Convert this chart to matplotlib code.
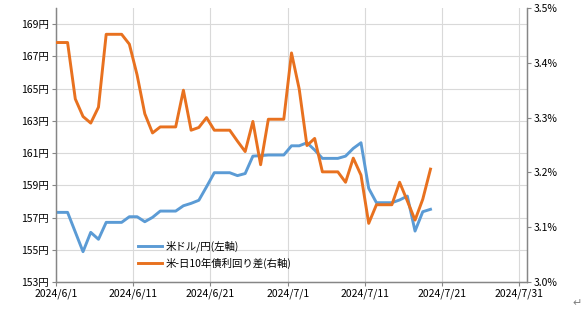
import matplotlib
matplotlib.use('Agg')
import matplotlib.pyplot as plt
import matplotlib.dates as mdates
import numpy as np
import pandas as pd

plt.rcParams['font.family'] = ['Noto Sans CJK JP', 'DejaVu Sans']

# -------------------------- data (daily, weekends carried forward) --------------------------
dates = pd.date_range('2024-05-31', '2024-07-19', freq='D')

usdjpy = [
    157.32,                                              # 5/31
    157.32, 157.32, 156.10, 154.88, 156.08, 155.65, 156.70,  # 6/1-6/7
    156.70, 156.70, 157.05, 157.05, 156.74, 157.01, 157.40,  # 6/8-6/14
    157.40, 157.40, 157.73, 157.88, 158.07, 158.91, 159.78,  # 6/15-6/21
    159.78, 159.78, 159.60, 159.73, 160.81, 160.84, 160.88,  # 6/22-6/28
    160.88, 160.88, 161.45, 161.45, 161.64, 161.19, 160.67,  # 6/29-7/5
    160.67, 160.67, 160.81, 161.29, 161.64, 158.81, 157.92,  # 7/6-7/12
    157.92, 157.92, 158.09, 158.33, 156.16, 157.36, 157.51,  # 7/13-7/19
]

spread = [
    3.437,                                               # 5/31
    3.437, 3.437, 3.334, 3.302, 3.290, 3.319, 3.452,     # 6/1-6/7
    3.452, 3.452, 3.434, 3.378, 3.307, 3.272, 3.283,     # 6/8-6/14
    3.283, 3.283, 3.350, 3.277, 3.282, 3.300, 3.277,     # 6/15-6/21
    3.277, 3.277, 3.257, 3.238, 3.293, 3.214, 3.297,     # 6/22-6/28
    3.297, 3.297, 3.418, 3.352, 3.249, 3.262, 3.201,     # 6/29-7/5
    3.201, 3.201, 3.182, 3.226, 3.195, 3.107, 3.141,     # 7/6-7/12
    3.141, 3.141, 3.182, 3.148, 3.113, 3.151, 3.206,     # 7/13-7/19
]

labels = ['米ドル/円(左軸)', '米-日10年債利回り差(右軸)']
tick_dates = pd.to_datetime(['2024-06-01', '2024-06-11', '2024-06-21', '2024-07-01',
                             '2024-07-11', '2024-07-21', '2024-07-31'])
left_ticks = np.arange(153, 170, 2)
right_ticks = np.arange(3.0, 3.51, 0.1)

# -------------------------- plot --------------------------
blue = '#5B9BD5'
orange = '#E8711F'
grid_c = '#D9D9D9'
spine_c = '#868686'

fig = plt.figure(figsize=(5.88, 3.11), dpi=100)
ax = fig.add_axes([56 / 588, 1 - 282 / 311, (527 - 56) / 588, (282 - 8) / 311])
ax2 = ax.twinx()

# points sit in the middle of each day (Excel date axis style)
x = dates + pd.Timedelta(hours=12)
l1, = ax.plot(x, usdjpy, color=blue, lw=2.1, solid_joinstyle='round', zorder=3)
l2, = ax2.plot(x, spread, color=orange, lw=2.1, solid_joinstyle='round', zorder=3)

ax.set_xlim(pd.Timestamp('2024-06-01'), pd.Timestamp('2024-08-01'))
ax.set_ylim(153, 170)
ax2.set_ylim(3.0, 3.5)

ax.set_xticks(tick_dates)
ax.set_xticklabels([f'{d.year}/{d.month}/{d.day}' for d in tick_dates])
ax.set_yticks(left_ticks)
ax.set_yticklabels([f'{v}円' for v in left_ticks])
ax2.set_yticks(right_ticks)
ax2.set_yticklabels([f'{v:.1f}%' for v in right_ticks])

ax.grid(True, color=grid_c, lw=0.8, zorder=0)
ax.set_axisbelow(True)

for a in (ax, ax2):
    a.spines['top'].set_visible(False)
    for s in ('left', 'right', 'bottom'):
        a.spines[s].set_color(spine_c)
        a.spines[s].set_linewidth(0.9)
    a.tick_params(colors=spine_c, labelcolor='black', labelsize=7.5, length=3, width=0.8, pad=2)

ax2.legend([l1, l2], labels, loc='upper left', bbox_to_anchor=(133 / 588, 1 - 235 / 311),
           bbox_transform=fig.transFigure, frameon=False, fontsize=7.5,
           handlelength=2.3, handletextpad=0.3, labelspacing=0.55, borderpad=0)

fig.text(572 / 588, 1 - 303 / 311, '↵', fontsize=8, color='#808080', ha='left', va='center')

plt.savefig('out.png', dpi=100)
